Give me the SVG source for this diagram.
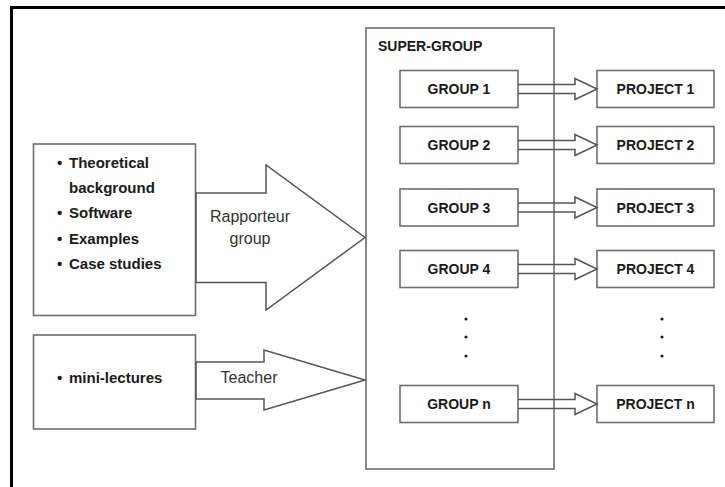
<svg xmlns="http://www.w3.org/2000/svg" width="725" height="487" viewBox="0 0 725 487">
<style>
.box{fill:#fff;stroke:#6e6e6e;stroke-width:1.6}
.arr{fill:none;stroke:#555;stroke-width:1.5;stroke-linejoin:miter}
.big{fill:#fff;stroke:#555;stroke-width:1.5}
.b{font-family:"Liberation Sans",Arial,sans-serif;font-weight:bold;fill:#1a1a1a}
.r{font-family:"Liberation Sans",Arial,sans-serif;fill:#333;font-size:16px}
.lbl{font-size:14px;text-anchor:middle}
.li{font-size:15px}
.dot{fill:#222}
</style>
<rect width="725" height="487" fill="#fff"/>
<path d="M11.5,487 V7.5 H725" fill="none" stroke="#000" stroke-width="3"/>

<g id="resources">
<rect class="box" x="33.5" y="144" width="162" height="171.5"/>
<text class="b li" x="57" y="168">•</text><text class="b li" x="69" y="168">Theoretical</text>
<text class="b li" x="69" y="193">background</text>
<text class="b li" x="57" y="218">•</text><text class="b li" x="69" y="218">Software</text>
<text class="b li" x="57" y="244">•</text><text class="b li" x="69" y="244">Examples</text>
<text class="b li" x="57" y="269">•</text><text class="b li" x="69" y="269">Case studies</text>
</g>

<g id="lectures">
<rect class="box" x="33.5" y="335" width="162" height="94"/>
<text class="b li" x="57" y="383">•</text><text class="b li" x="69" y="383">mini-lectures</text>
</g>

<g id="supergroup">
<rect class="box" x="366" y="28" width="188" height="441"/>
<text class="b" x="378" y="51" font-size="14">SUPER-GROUP</text>
<circle class="dot" cx="466" cy="319" r="1.6"/>
<circle class="dot" cx="466" cy="337" r="1.6"/>
<circle class="dot" cx="466" cy="356" r="1.6"/>
</g>

<g id="group1"><rect class="box" x="400" y="70.5" width="118" height="37"/><text class="b lbl" x="459" y="94">GROUP 1</text></g>
<g id="group2"><rect class="box" x="400" y="126.5" width="118" height="37"/><text class="b lbl" x="459" y="150">GROUP 2</text></g>
<g id="group3"><rect class="box" x="400" y="189" width="118" height="37"/><text class="b lbl" x="459" y="212.5">GROUP 3</text></g>
<g id="group4"><rect class="box" x="400" y="250.5" width="118" height="37"/><text class="b lbl" x="459" y="274">GROUP 4</text></g>
<g id="groupn"><rect class="box" x="400" y="385.5" width="118" height="37"/><text class="b lbl" x="459" y="409">GROUP n</text></g>

<g id="project1"><rect class="box" x="597" y="70.5" width="117" height="37"/><text class="b lbl" x="655.5" y="94">PROJECT 1</text></g>
<g id="project2"><rect class="box" x="597" y="126.5" width="117" height="37"/><text class="b lbl" x="655.5" y="150">PROJECT 2</text></g>
<g id="project3"><rect class="box" x="597" y="189" width="117" height="37"/><text class="b lbl" x="655.5" y="212.5">PROJECT 3</text></g>
<g id="project4"><rect class="box" x="597" y="250.5" width="117" height="37"/><text class="b lbl" x="655.5" y="274">PROJECT 4</text></g>
<g id="projectn"><rect class="box" x="597" y="385.5" width="117" height="37"/><text class="b lbl" x="655.5" y="409">PROJECT n</text></g>
<g id="projectdots">
<circle class="dot" cx="662" cy="319" r="1.6"/>
<circle class="dot" cx="662" cy="337" r="1.6"/>
<circle class="dot" cx="662" cy="356" r="1.6"/>
</g>

<g id="connectors">
<polygon class="big" points="196,193 266,193 266,165 365,237.5 266,310 266,282.5 196,282.5"/>
<text class="r" x="250" y="222" text-anchor="middle">Rapporteur</text>
<text class="r" x="250" y="244" text-anchor="middle">group</text>
<polygon class="big" points="196,362 264,362 264,350 365,380 264,410 264,399 196,399"/>
<text class="r" x="249" y="383" text-anchor="middle">Teacher</text>
<path class="arr" d="M518,84.5 H575 V78.5 L597,89 L575,99.5 V93.5 H518"/>
<path class="arr" d="M518,140.5 H575 V134.5 L597,145 L575,155.5 V149.5 H518"/>
<path class="arr" d="M518,203 H575 V197 L597,207.5 L575,218 V212 H518"/>
<path class="arr" d="M518,264.5 H575 V258.5 L597,269 L575,279.5 V273.5 H518"/>
<path class="arr" d="M518,399.5 H575 V393.5 L597,404 L575,414.5 V408.5 H518"/>
</g>
</svg>
